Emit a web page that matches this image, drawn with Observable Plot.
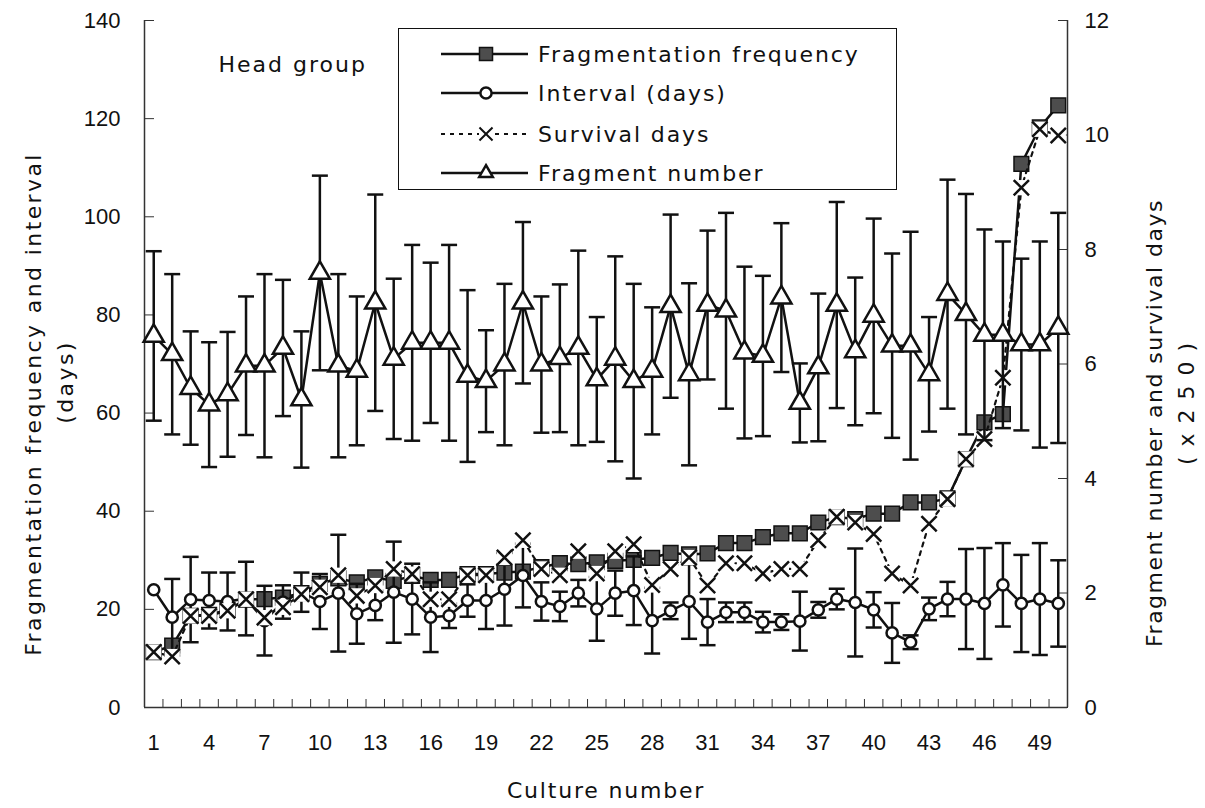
<!DOCTYPE html>
<html><head><meta charset="utf-8">
<script src="https://cdn.jsdelivr.net/npm/d3@7"></script>
<script src="https://cdn.jsdelivr.net/npm/@observablehq/plot@0.6"></script>
<style>
body{margin:0;background:#fff;}
#wrap{position:relative;width:1205px;height:808px;background:#fff;}
#legend{position:absolute;left:398px;top:28px;width:497px;height:160px;border:1.5px solid #111;background:#fff;}
</style></head><body><div id="wrap"></div>
<script>
const culture = [1,2,3,4,5,6,7,8,9,10,11,12,13,14,15,16,17,18,19,20,21,22,23,24,25,26,27,28,29,30,31,32,33,34,35,36,37,38,39,40,41,42,43,44,45,46,47,48,49,50];
// left axis
const fragFreq = [11.3,12.6,18.7,18.9,19.9,22.0,22.1,22.4,23.3,25.2,26.3,25.5,26.5,25.8,26.8,26,26,27.2,27.2,27.5,27.7,28.6,29.4,29.2,29.6,29.9,30.1,30.5,31.5,31.2,31.4,33.5,33.5,34.7,35.5,35.5,37.7,38.8,38.4,39.5,39.5,41.8,41.8,42.6,50.6,58.1,59.8,110.8,118.2,122.7];
const interval = [24.0,18.4,22.0,21.8,21.6,22.2,17.7,21.5,23.5,21.6,23.3,19.1,20.8,23.5,22.1,18.4,18.7,21.8,21.8,24.1,26.9,21.6,20.6,23.3,20.1,23.3,23.8,17.7,19.7,21.6,17.4,19.4,19.4,17.4,17.4,17.6,19.9,22.1,21.4,19.9,15.2,13.3,20.1,22.1,22.1,21.2,25.0,21.2,22.1,21.2];
const intervalSD = [0,7.8,8.7,5.7,5.9,7.5,7.1,3.4,4,5.6,11.9,6.1,3,10.3,7.2,7.1,2.5,3.3,5.8,7.4,6.5,3.9,3,2.7,6.5,4.6,7,6.7,1.7,7.6,4.7,2,2,2.1,1.6,6,1.6,2.1,11,3.6,6.1,1.4,2.3,3.5,10.2,11.3,8.5,9.9,11.4,8.8];
// right axis
const survival = [0.97,0.89,1.60,1.60,1.69,1.89,1.57,1.75,1.98,2.10,2.31,1.95,2.13,2.42,2.33,1.89,1.89,2.31,2.31,2.62,2.92,2.42,2.31,2.73,2.34,2.73,2.85,2.14,2.42,2.62,2.13,2.52,2.52,2.34,2.42,2.42,2.92,3.33,3.23,3.03,2.34,2.13,3.21,3.64,4.34,4.69,5.76,9.08,10.10,9.99];
const fragNumber = [6.49,6.17,5.58,5.29,5.47,5.97,5.97,6.28,5.38,7.59,5.97,5.88,7.07,6.09,6.37,6.37,6.37,5.79,5.70,5.99,7.07,5.99,6.10,6.28,5.73,6.09,5.70,5.88,7.01,5.82,7.03,6.93,6.20,6.14,7.16,5.32,5.94,7.03,6.22,6.84,6.32,6.32,5.82,7.22,6.87,6.51,6.51,6.34,6.34,6.63];
const fragNumberSD = [1.48,1.40,0.99,1.09,1.09,1.21,1.60,1.19,1.19,1.70,1.60,1.30,1.89,1.40,1.71,1.40,1.71,1.50,0.89,1.41,1.41,1.19,1.29,1.70,1.09,1.79,1.70,1.11,1.60,1.59,1.30,1.71,1.50,1.40,1.30,0.69,1.29,1.80,1.29,1.70,1.61,1.99,1.00,2.00,2.10,1.84,1.63,1.50,1.80,2.01];

const leftTicks = [0,20,40,60,80,100,120,140];
const rightTicks = [0,2,4,6,8,10,12];
const xTickLabels = [1,4,7,10,13,16,19,22,25,28,31,34,37,40,43,46,49];
const seriesNames = ["Fragmentation frequency","Interval (days)","Survival days","Fragment number"];
const groupLabel = "Head group";
const xTitle = "Culture number";
const yLeftTitle = "Fragmentation frequency and interval\n(days)";
const yRightTitle = "Fragment number and survival days\n(x250)";

const K = 140 / 12; // right-axis units -> left-axis units
const rows = culture.map((c, i) => ({
  c, freq: fragFreq[i], int: interval[i], intSD: intervalSD[i],
  surv: survival[i] * K, num: fragNumber[i] * K, numSD: fragNumberSD[i] * K
}));
const boundaries = culture.map(c => c - 0.5).concat([culture[culture.length - 1] + 0.5]);
const cap = {draw(ctx, size) { const w = Math.sqrt(size / Math.PI); ctx.moveTo(-w, 0); ctx.lineTo(w, 0); }};
const intRows = rows.filter(d => d.intSD > 0);
const ink = "#111";
const capOpts = {x: "c", symbol: cap, r: 8, fill: "none", stroke: ink, strokeWidth: 2.5};

const chart = Plot.plot({
  width: 1205, height: 808,
  marginLeft: 144, marginRight: 138, marginTop: 20, marginBottom: 101,
  x: {domain: [0.5, 50.5]},
  y: {domain: [0, 140]},
  style: {fontFamily: "'Liberation Sans', Arial, sans-serif", fontSize: "22px", color: ink, background: "white"},
  marks: [
    Plot.ruleY([0], {stroke: "#333", strokeWidth: 1.5}),
    Plot.ruleX([0.5], {stroke: "#333", strokeWidth: 1.5}),
    Plot.ruleX([50.5], {stroke: "#333", strokeWidth: 1.5}),
    Plot.axisX(boundaries, {tickSize: -8, tickFormat: () => "", label: null, stroke: "#333"}),
    Plot.axisX(xTickLabels, {tickSize: 0, tickPadding: 27, label: null}),
    Plot.axisY(leftTicks, {anchor: "left", tickSize: -10, tickFormat: () => "", label: null, stroke: "#333"}),
    Plot.axisY(leftTicks, {anchor: "left", tickSize: 0, tickPadding: 24, label: null}),
    Plot.axisY(rightTicks.map(v => v * K), {anchor: "right", tickSize: -10, tickFormat: () => "", label: null, stroke: "#333"}),
    Plot.axisY(rightTicks.map(v => v * K), {anchor: "right", tickSize: 0, tickPadding: 17, tickFormat: d => String(Math.round(d / K)), label: null}),
    // series 1: fragmentation frequency
    Plot.line(rows, {x: "c", y: "freq", stroke: ink, strokeWidth: 2.5}),
    Plot.dot(rows, {x: "c", y: "freq", symbol: "square", r: 8.3, fill: "#4d4d4d", stroke: ink, strokeWidth: 1.5}),
    // series 2: interval
    Plot.ruleX(intRows, {x: "c", y1: d => d.int - d.intSD, y2: d => d.int + d.intSD, stroke: ink, strokeWidth: 2.5}),
    Plot.dot(intRows, {...capOpts, y: d => d.int + d.intSD}),
    Plot.dot(intRows, {...capOpts, y: d => d.int - d.intSD}),
    Plot.line(rows, {x: "c", y: "int", stroke: ink, strokeWidth: 2.5}),
    Plot.dot(rows, {x: "c", y: "int", symbol: "circle", r: 5.6, fill: "white", stroke: ink, strokeWidth: 2.5}),
    // series 3: survival days (x marker on a white square background)
    Plot.line(rows, {x: "c", y: "surv", stroke: ink, strokeWidth: 2.2, strokeDasharray: "4,5"}),
    Plot.dot(rows, {x: "c", y: "surv", symbol: "square", r: 8.6, fill: "white", stroke: "none"}),
    Plot.dot(rows, {x: "c", y: "surv", symbol: "times", r: 7, stroke: ink, strokeWidth: 2.5}),
    // series 4: fragment number
    Plot.ruleX(rows, {x: "c", y1: d => d.num - d.numSD, y2: d => d.num + d.numSD, stroke: ink, strokeWidth: 2.5}),
    Plot.dot(rows, {...capOpts, y: d => d.num + d.numSD}),
    Plot.dot(rows, {...capOpts, y: d => d.num - d.numSD}),
    Plot.line(rows, {x: "c", y: "num", stroke: ink, strokeWidth: 2.5}),
    Plot.dot(rows, {x: "c", y: "num", symbol: "triangle", r: 7.5, fill: "white", stroke: ink, strokeWidth: 2.5}),
    // texts
    Plot.text([groupLabel], {frameAnchor: "top-left", dx: 74, dy: 36, textAnchor: "start", lineAnchor: "top", fontSize: 22, fill: ink}),
    Plot.text([xTitle], {frameAnchor: "bottom", dy: 83, textAnchor: "middle", lineAnchor: "middle", fontSize: 22, fill: ink}),
    Plot.text([yLeftTitle], {frameAnchor: "left", rotate: -90, dx: -98, dy: 40, textAnchor: "middle", lineAnchor: "middle", lineHeight: 1.45, fontSize: 22, fill: ink}),
    Plot.text([yRightTitle], {frameAnchor: "right", rotate: -90, dx: 100, dy: 59, textAnchor: "middle", lineAnchor: "middle", lineHeight: 1.45, fontSize: 22, fill: ink})
  ]
});
// typography of the titles
const titleStyle = [
  {start: groupLabel, spacing: "2px", line2: null},
  {start: xTitle, spacing: "1.8px", line2: null},
  {start: yLeftTitle.split("\n")[0], spacing: "2.4px", line2: {dx: 22, spacing: "2.4px"}},
  {start: yRightTitle.split("\n")[0], spacing: "1.5px", line2: {dx: 24, spacing: "10px"}}
];
d3.select(chart).selectAll("text").each(function() {
  const txt = this.textContent;
  const st = titleStyle.find(s => txt.startsWith(s.start));
  if (!st) return;
  d3.select(this).style("font-family", "'DejaVu Sans', sans-serif").style("letter-spacing", st.spacing);
  if (st.line2) {
    const t2 = d3.select(this).selectAll("tspan").filter((d, i) => i === 1);
    t2.attr("dx", st.line2.dx).style("letter-spacing", st.line2.spacing);
  }
});

const wrap = document.getElementById("wrap");
wrap.appendChild(chart);

// legend inside the plot area
const legend = document.createElement("div");
legend.id = "legend";
wrap.appendChild(legend);
const lsvg = d3.select(legend).append("svg").attr("width", 497).attr("height", 160);
const kinds = [
  {sym: d3.symbolSquare2, r: 8.3, fill: "#4d4d4d", sw: 1.5, dash: null},
  {sym: d3.symbolCircle, r: 5.6, fill: "white", sw: 2.5, dash: null},
  {sym: d3.symbolTimes, r: 6, fill: "none", sw: 2, dash: "4,5"},
  {sym: d3.symbolTriangle2, r: 6.5, fill: "white", sw: 2.5, dash: null}
];
const rowY = [25, 64, 105, 144];
seriesNames.forEach((name, i) => {
  const k = kinds[i];
  const g = lsvg.append("g").attr("transform", `translate(0,${rowY[i]})`);
  g.append("line").attr("x1", 42).attr("x2", 129).attr("y1", 0).attr("y2", 0)
    .attr("stroke", ink).attr("stroke-width", i === 2 ? 2.2 : 2.5).attr("stroke-dasharray", k.dash);
  if (i === 2) g.append("rect").attr("x", 80).attr("y", -7).attr("width", 14).attr("height", 14).attr("fill", "white");
  g.append("path").attr("transform", "translate(87,0)")
    .attr("d", d3.symbol(k.sym, Math.PI * k.r * k.r)())
    .attr("fill", k.fill).attr("stroke", ink).attr("stroke-width", k.sw);
  g.append("text").attr("x", 139).attr("y", 0).attr("dy", "0.36em")
    .attr("font-family", "'DejaVu Sans', sans-serif").attr("font-size", 22)
    .attr("letter-spacing", "1.9px").attr("fill", ink).text(name);
});
</script>
</body></html>
